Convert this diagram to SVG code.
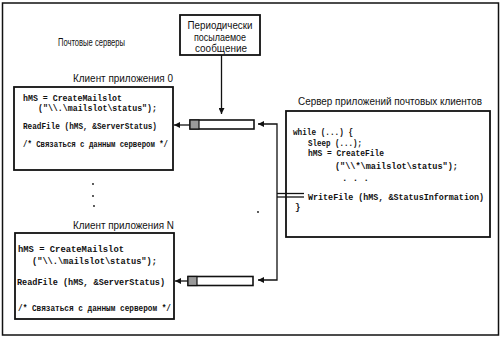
<svg xmlns="http://www.w3.org/2000/svg" width="503" height="337" viewBox="0 0 503 337">
<style>
.lbl{font-family:"Liberation Sans",Arial,sans-serif;font-size:11px;fill:#111}
.code{font-family:"Liberation Mono","Courier New",monospace;font-size:9px;fill:#111;font-weight:bold}
.box{fill:#fff;stroke:#111;stroke-width:1.8}
.ln{fill:none;stroke:#111;stroke-width:1.3}
.slot{fill:#fff;stroke:#111;stroke-width:1.6}
.slotk{fill:#9a9a9a;stroke:#111;stroke-width:1.2}
</style>
<defs>
<marker id="ah" viewBox="0 0 10 10" refX="10" refY="5" markerWidth="7" markerHeight="6" markerUnits="userSpaceOnUse" orient="auto">
<path d="M0,0 L10,5 L0,10 z" fill="#111"/>
</marker>
</defs>
<rect x="2.5" y="3" width="496" height="332" fill="#fff" stroke="#111" stroke-width="1.5"/>
<text class="lbl" x="58" y="46" textLength="67" lengthAdjust="spacingAndGlyphs">Почтовые серверы</text>

<g id="periodic">
<rect class="box" x="180" y="15" width="80" height="40"/>
<text class="lbl" x="220" y="29" text-anchor="middle" textLength="65" lengthAdjust="spacingAndGlyphs">Периодически</text>
<text class="lbl" x="220" y="40.5" text-anchor="middle" textLength="52" lengthAdjust="spacingAndGlyphs">посылаемое</text>
<text class="lbl" x="221" y="52" text-anchor="middle" textLength="52" lengthAdjust="spacingAndGlyphs">сообщение</text>
</g>

<g id="client0">
<text class="lbl" x="73" y="82" textLength="100" lengthAdjust="spacingAndGlyphs">Клиент приложения 0</text>
<rect class="box" x="14" y="87" width="159" height="83"/>
<text class="code" x="23" y="100.5" textLength="99" lengthAdjust="spacingAndGlyphs">hMS = CreateMailslot</text>
<text class="code" x="38" y="110.5" textLength="119" lengthAdjust="spacingAndGlyphs">("\\.\mailslot\status");</text>
<text class="code" x="23" y="128.5" textLength="134" lengthAdjust="spacingAndGlyphs">ReadFile (hMS, &amp;ServerStatus)</text>
<text class="code" x="23" y="146.5" textLength="145" lengthAdjust="spacingAndGlyphs">/* Связаться с данным сервером */</text>
</g>

<g id="clientN">
<text class="lbl" x="73" y="229" textLength="101" lengthAdjust="spacingAndGlyphs">Клиент приложения N</text>
<rect class="box" x="15" y="233" width="159" height="86"/>
<text class="code" x="18" y="251.5" textLength="106" lengthAdjust="spacingAndGlyphs">hMS = CreateMailslot</text>
<text class="code" x="32" y="263.5" textLength="125" lengthAdjust="spacingAndGlyphs">("\\.\mailslot\status");</text>
<text class="code" x="17" y="284.5" textLength="148" lengthAdjust="spacingAndGlyphs">ReadFile (hMS, &amp;ServerStatus)</text>
<text class="code" x="18" y="310.5" textLength="153" lengthAdjust="spacingAndGlyphs">/* Связаться с данным сервером */</text>
</g>

<g id="server">
<text class="lbl" x="298" y="105" textLength="184" lengthAdjust="spacingAndGlyphs">Сервер приложений почтовых клиентов</text>
<rect class="box" x="286" y="111" width="204" height="126"/>
<text class="code" x="293" y="135" textLength="60" lengthAdjust="spacingAndGlyphs">while (...) {</text>
<text class="code" x="308" y="145.5" textLength="54" lengthAdjust="spacingAndGlyphs">Sleep (...);</text>
<text class="code" x="308" y="156" textLength="76" lengthAdjust="spacingAndGlyphs">hMS = CreateFile</text>
<text class="code" x="335" y="169" textLength="123" lengthAdjust="spacingAndGlyphs">("\\*\mailslot\status");</text>
<text class="code" x="342" y="181">. . .</text>
<text class="code" x="308" y="199.5" textLength="176" lengthAdjust="spacingAndGlyphs">WriteFile (hMS, &amp;StatusInformation)</text>
<text class="code" x="295" y="210">}</text>
</g>

<g id="mailslot0">
<rect class="slot" x="190" y="120" width="64" height="9"/>
<rect class="slotk" x="190" y="120" width="9" height="9"/>
</g>
<g id="mailslotN">
<rect class="slot" x="188" y="276.5" width="65" height="9"/>
<rect class="slotk" x="188" y="276.5" width="9" height="9"/>
</g>

<g id="dots" fill="#111">
<circle cx="93" cy="184" r="0.9"/>
<circle cx="93" cy="196" r="0.9"/>
<circle cx="94" cy="206" r="0.9"/>
<circle cx="258" cy="212" r="0.9"/>
</g>

<g id="connectors">
<line class="ln" x1="221.5" y1="55" x2="221.5" y2="114" marker-end="url(#ah)"/>
<line class="ln" x1="190" y1="125" x2="174" y2="125" marker-end="url(#ah)"/>
<line class="ln" x1="188" y1="281" x2="175" y2="281" marker-end="url(#ah)"/>
<polyline class="ln" points="277,196 277,124 258,124" marker-end="url(#ah)"/>
<polyline class="ln" points="277,196 277,280 258,280" marker-end="url(#ah)"/>
<line class="ln" x1="277" y1="193.5" x2="304" y2="193.5"/>
<line class="ln" x1="277" y1="197" x2="304" y2="197"/>
</g>
</svg>
